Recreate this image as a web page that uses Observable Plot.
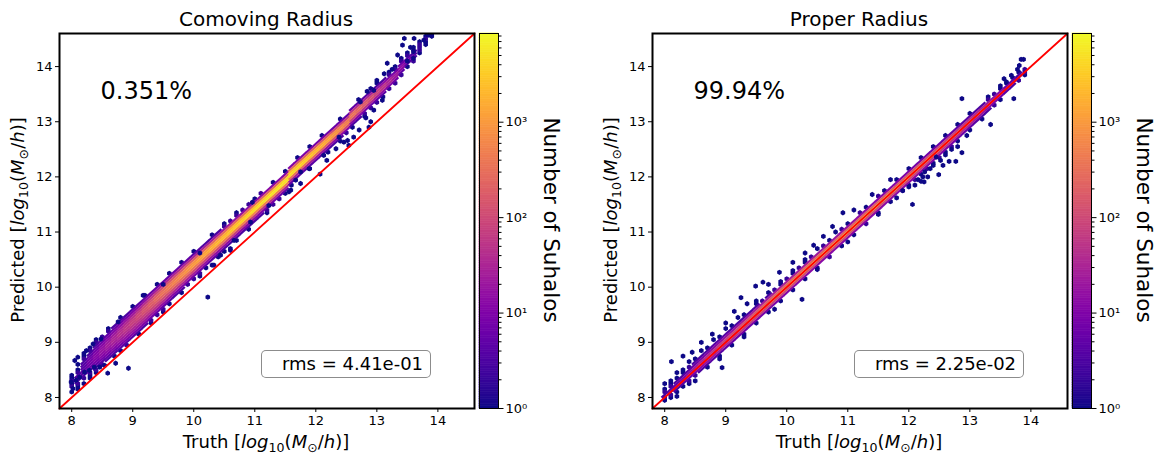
<!DOCTYPE html>
<html><head><meta charset="utf-8">
<script src="https://cdn.jsdelivr.net/npm/d3@7"></script>
<script src="https://cdn.jsdelivr.net/npm/@observablehq/plot@0.6"></script>
<style>
html,body{margin:0;padding:0;background:#fff;}
#fig{position:relative;width:1164px;height:458px;overflow:hidden;font-family:"DejaVu Sans",sans-serif;color:#000;}
.abs{position:absolute;white-space:nowrap;line-height:1;}
.title{font-size:20px;transform:translateX(-50%);}
.xlab{font-size:18px;transform:translateX(-50%);}
.ylab{font-size:18px;transform:translate(-50%,-50%) rotate(-90deg);}
.cblab{font-size:21.5px;transform:translate(-50%,-50%) rotate(90deg);}
.pct{font-size:24px;}
.box{box-sizing:border-box;border:1px solid rgba(0,0,0,0.45);border-radius:5px;background:#fff;font-size:18px;line-height:26px;padding-left:20px;}
sub{font-size:70%;vertical-align:-0.28em;line-height:0;}
</style></head>
<body><div id="fig"></div>
<script>
// ---------- data ----------
const axisLimits = [7.8, 14.6];
const majorTicks = [8, 9, 10, 11, 12, 13, 14];
const cbarTicks = [1, 10, 100, 1000];
const cbarMinorTicks = [2,3,4,5,6,7,8,9,20,30,40,50,60,70,80,90,200,300,400,500,600,700,800,900,2000,3000,4000,5000,6000,7000,8000];
const cbarMax = 8500;
const panelTitles = ["Comoving Radius", "Proper Radius"];
const fractionLabels = ["0.351%", "99.94%"];
const rmsLabels = ["rms = 4.41e-01", "rms = 2.25e-02"];

// hexbin columns along the truth axis (column centres)
const truthColumns = [8.0,8.1,8.2,8.3,8.4,8.5,8.6,8.7,8.8,8.9,9.0,9.1,9.2,9.3,9.4,9.5,9.6,9.7,9.8,9.9,
  10.0,10.1,10.2,10.3,10.4,10.5,10.6,10.7,10.8,10.9,11.0,11.1,11.2,11.3,11.4,11.5,11.6,11.7,11.8,11.9,
  12.0,12.1,12.2,12.3,12.4,12.5,12.6,12.7,12.8,12.9,13.0,13.1,13.2,13.3,13.4,13.5,13.6,13.7,13.8,13.9];

// Comoving: lowest (predicted - truth) row of each column, then counts per row going up
const comovingRowStart = [0.10,
  0.05,0.05,0.05,0.05,0.05,0.05,0.05,0.05,0.05,0.05,0.05,0.05,0.05,0.05,0.05,
  0.10,0.10,0.10,0.10,0.10,0.10,0.10,0.10,0.10,0.10,0.10,0.10,0.10,
  0.15,0.15,0.15,0.15,0.15,0.20,0.20,
  0.25,0.25,0.25,0.25,0.25,0.25,0.25,0.25,0.25,0.25,
  0.30,0.30,0.30,0.30,0.35,0.35,0.40,0.40,0.45,0.50,0.50,0.55,0.60,0.65];
const comovingCounts = [
  "1 0 2 1 2 1 1",
  "1 1 2 3 2 3 2 1 0 1",
  "1 0 2 3 4 5 4 4 3 2 1 1",
  "1 1 2 4 6 7 8 7 5 3 2 1 0",
  "1 2 3 5 8 10 12 11 8 5 3 2 1",
  "0 2 4 7 11 15 18 16 12 7 4 2 0",
  "0 3 5 9 14 20 25 22 16 9 5 2 1",
  "1 3 6 11 18 26 33 30 21 12 6 3 0",
  "1 4 8 14 22 33 44 40 28 15 7 3 1",
  "2 4 9 16 27 42 56 52 36 19 8 3 0",
  "0 4 10 19 33 52 72 70 48 24 10 4 1",
  "1 3 10 21 38 62 92 100 68 32 12 4 0",
  "0 3 9 21 42 74 120 140 100 44 15 5 1",
  "1 2 7 19 44 85 150 190 140 60 19 5 0",
  "0 2 6 17 44 95 185 260 200 85 24 6 1",
  "1 2 5 14 42 105 230 360 280 110 28 6 0",
  "1 4 12 38 110 270 460 360 130 30 6 1",
  "0 3 10 34 110 300 570 450 150 32 6 0",
  "1 3 9 30 110 330 700 560 170 32 5 1",
  "0 2 8 27 110 360 850 680 190 32 5 0",
  "0 2 7 24 105 390 1000 800 210 30 4 1",
  "1 2 6 21 100 420 1200 950 230 30 4 0",
  "0 1 5 18 95 450 1400 1100 240 28 3 0",
  "1 0 4 16 90 480 1650 1250 250 26 3 1",
  "0 1 4 15 85 500 1900 1400 250 24 3 0",
  "0 1 3 14 80 520 2200 1600 250 22 2 1",
  "1 0 3 13 75 540 2600 1800 250 20 2 0",
  "0 1 3 12 70 560 3000 2000 250 18 2 1",
  "0 0 3 11 65 580 3500 2200 240 16 2 0",
  "1 3 10 60 600 4000 2400 230 15 2",
  "0 3 10 55 600 4500 2600 220 14 1",
  "0 3 9 50 580 4800 2800 220 13 2",
  "1 2 8 45 560 5200 3000 220 12 0",
  "0 2 8 40 520 5500 3200 220 11 1",
  "2 6 34 470 5400 3600 240 11 0",
  "1 5 30 420 4800 4200 240 10 1",
  "1 5 28 360 4400 2700 220 10 0",
  "0 5 26 330 4000 2500 210 10 1",
  "0 4 24 300 3400 2200 200 9 0",
  "1 4 22 270 2800 1900 180 9 1",
  "0 4 20 240 2200 1600 160 8 0",
  "0 3 18 210 1700 1300 140 8 1",
  "1 3 16 180 1300 1000 120 7 0",
  "0 3 14 150 950 750 100 6 0",
  "1 3 12 120 700 560 80 6 1",
  "0 2 10 95 500 420 65 5 0",
  "1 3 12 80 360 300 50 5 0",
  "0 3 10 60 260 220 40 4 1",
  "1 2 8 45 180 160 32 4 0",
  "0 2 6 32 120 110 25 3 1",
  "2 5 22 80 75 18 3 1",
  "1 4 15 50 50 14 3 0",
  "2 10 32 32 10 2 1",
  "2 7 20 22 8 2 1",
  "2 5 13 15 6 2 1",
  "1 4 8 4 2 1",
  "2 3 4 3 1 1",
  "1 2 2 2 1",
  "1 1 2 1",
  "1 1"];

// Proper: same layout (row index 3 = on the diagonal for most columns)
const properRowStart = [-0.05,-0.10,-0.10,
  -0.15,-0.15,-0.15,-0.15,-0.15,-0.15,-0.15,-0.15,-0.15,-0.15,-0.15,-0.15,-0.15,-0.15,-0.15,-0.15,-0.15,
  -0.15,-0.15,-0.15,-0.15,-0.15,-0.15,-0.15,-0.15,-0.15,-0.15,-0.15,-0.15,-0.15,-0.15,-0.15,-0.15,-0.15,
  -0.15,-0.15,-0.15,-0.15,-0.15,-0.15,-0.15,-0.15,-0.15,-0.15,-0.15,-0.15,-0.15,-0.15,-0.15,-0.15,-0.15,
  -0.15,-0.15,-0.15,-0.15,-0.15,-0.15];
const properCounts = [
  "1 2 3 2 1 0 1",
  "1 2 5 4 2 1 1",
  "1 3 8 6 3 1 0 1",
  "0 1 4 14 10 3 1 1",
  "1 2 6 22 15 4 2 0 1",
  "0 2 9 32 22 6 3 1",
  "0 3 12 45 30 8 3 0 1",
  "1 3 16 60 40 10 3 1",
  "0 4 20 80 52 12 4 0 1",
  "1 4 25 105 65 14 4 1",
  "0 5 32 135 80 16 4 0 1",
  "1 6 38 170 95 18 3 1",
  "0 6 45 215 110 20 3 0 1",
  "1 7 52 270 125 22 3 1",
  "0 7 60 340 140 24 3 0",
  "1 8 68 420 160 25 3 1 1",
  "0 8 75 520 175 26 2 0",
  "1 9 82 640 190 26 3 1",
  "0 9 88 780 205 26 2 0",
  "1 10 94 950 215 26 1 1",
  "0 10 100 1150 225 26 2 0",
  "1 11 105 1400 230 25 1 1",
  "0 11 110 1650 235 25 2",
  "1 12 112 1900 240 24 1 1",
  "0 12 114 2200 240 23 2",
  "1 12 116 2500 240 22 0 1",
  "0 12 116 2800 235 21 2",
  "2 12 116 3100 230 20 1",
  "0 12 114 3400 225 19 0 1",
  "1 12 112 3700 220 18 2",
  "0 12 110 4000 215 17 1",
  "1 12 108 4200 210 16 0",
  "0 12 106 4400 205 15 2",
  "2 12 104 4500 200 14 1",
  "0 12 102 4500 195 13 0",
  "1 12 100 4400 190 12 2",
  "0 12 98 4200 180 11 1",
  "1 12 95 3900 170 10 0",
  "0 12 92 3500 160 10 1",
  "2 12 88 3100 150 9 0",
  "1 12 84 2700 140 9 1",
  "2 12 80 2300 130 8 0",
  "1 11 76 1900 120 8 1",
  "2 11 70 1550 110 7 0",
  "1 10 64 1250 100 7 1",
  "2 10 58 1000 90 6 0",
  "1 9 52 780 80 6 1",
  "2 8 46 600 70 5 0",
  "1 7 40 450 60 5 1",
  "0 6 34 330 50 4 0",
  "1 5 28 240 42 4 1",
  "0 4 22 170 34 3 0",
  "1 3 17 120 27 3",
  "0 3 13 82 21 2 1",
  "0 2 10 55 16 2",
  "0 1 7 36 12 1 1",
  "0 0 4 22 8 1",
  "0 0 3 12 5 1",
  "0 0 2 6 3 1",
  "0 0 1 2 2"];

// isolated single-halo cells
const comovingOutlierTruth = [8.02,7.99,8.07,8.13,8.21,8.29,8.37,8.46,8.54,8.59,8.93,8.72,10.23,12.07,12.87,10.33,
  8.05,8.10,8.24,8.35,8.48,8.76,9.17,9.50,10.10,10.96,
  10.44,10.60,10.66,10.93,11.23,11.56,11.67,11.75,11.89,12.13,11.59,11.75,12.18,12.33,12.38,12.46,12.52,12.54,12.62,12.71,12.82,12.90,12.95,13.09,
  12.73,12.84,12.95,13.00,13.12,13.17,13.34,13.42,13.45,13.60,13.61,13.60,13.77,13.85,13.25,13.50,13.55];
const comovingOutlierPred = [8.16,8.28,8.31,8.37,8.46,8.49,8.55,8.55,8.58,8.44,8.53,8.62,9.82,12.05,12.90,10.40,
  8.67,8.73,8.85,8.97,9.06,9.37,9.85,10.05,10.62,11.54,
  10.58,10.67,10.85,11.18,11.48,11.73,11.94,12.09,12.15,12.39,11.76,11.88,12.30,12.51,12.72,12.63,12.66,12.57,12.72,12.85,13.07,13.00,13.21,13.39,
  13.36,13.55,13.57,13.75,13.87,14.06,14.21,14.39,14.51,14.27,14.51,14.15,14.48,14.57,13.95,14.10,14.35];
const properOutlierTruth = [8.94,10.25,12.06,12.87,13.72,13.34,
  13.84,13.88,13.81,13.68,13.78,13.56,13.60,
  12.87,12.77,12.66,12.56,12.49,12.40,12.31,12.26,12.45,12.23,12.25,12.60,12.70,12.35,12.15,12.10,12.20,12.52,12.80,12.95,12.00,11.90,11.80,
  8.11,8.45,8.78,9.14,9.25,9.49,9.61,9.88,10.44,10.92,8.30,8.60,9.00,9.35,9.70,10.10,10.30,10.60,10.75,11.10,11.40,11.70,
  8.20,8.50,8.90,9.30,9.80,10.50,11.00,11.50];
const properOutlierPred = [8.54,9.78,11.50,13.42,13.42,12.95,
  14.13,14.13,14.02,13.84,13.95,13.78,13.72,
  12.44,12.28,12.28,12.21,12.04,12.21,12.00,12.09,12.36,12.00,11.91,12.40,12.50,12.15,11.95,11.85,11.92,12.30,12.55,12.75,11.82,11.75,11.62,
  8.65,8.82,9.15,9.56,9.81,10.02,10.09,10.27,10.76,11.35,8.75,9.00,9.35,9.70,10.05,10.45,10.62,10.92,11.10,11.40,11.68,11.95,
  8.02,8.30,8.70,9.10,9.60,10.32,10.82,11.32];

// ---------- drawing ----------
const COL = 0.1, ROW = 0.05;
const fig = document.getElementById("fig");
const colorOpts = {type: "log", scheme: "plasma", domain: [1, cbarMax]};
const sup = ["\u2070", "\u00b9", "\u00b2", "\u00b3", "\u2074"];
const baseStyle = {fontFamily: "DejaVu Sans", fontSize: "13px", color: "#000", background: "none", overflow: "visible"};
const massLabel = '[<i>log</i><sub>10</sub>(<i>M</i><sub>\u2299</sub>/<i>h</i>)]';

function addDiv(cls, left, top, html, extra) {
  const d = document.createElement("div");
  d.className = "abs " + cls;
  d.style.left = left + "px"; d.style.top = top + "px";
  d.innerHTML = html;
  if (extra) Object.assign(d.style, extra);
  fig.appendChild(d);
  return d;
}
function place(node, left, top) {
  const w = document.createElement("div");
  w.style.position = "absolute"; w.style.left = left + "px"; w.style.top = top + "px";
  w.appendChild(node); fig.appendChild(w);
}

function panel(p, ox, rowStart, counts, outT, outP) {
  const cells = [];
  truthColumns.forEach((t, i) => {
    counts[i].split(" ").map(Number).forEach((c, j) => {
      if (c > 0) cells.push({t, o: rowStart[i] + j * ROW, c});
    });
  });
  cells.sort((a, b) => a.c - b.c);
  const dense = cells.filter(d => d.c >= 3);
  const sparse = cells.filter(d => d.c < 3);
  const half = COL / 2 * 1.06;
  const outIdx = d3.range(outT.length);

  const main = Plot.plot({
    width: 477, height: 458, marginLeft: 59, marginRight: 3, marginTop: 33, marginBottom: 50,
    x: {domain: axisLimits}, y: {domain: axisLimits},
    color: colorOpts,
    style: baseStyle,
    marks: [
      Plot.dot(sparse, {x: d => d.t, y: d => d.t + d.o, fill: d => d.c, r: 2.3, symbol: "hexagon", clip: true}),
      Plot.link(dense, {x1: d => d.t - half, y1: d => d.t - half + d.o, x2: d => d.t + half, y2: d => d.t + half + d.o,
        stroke: d => d.c, strokeWidth: 2.25, strokeLinecap: "butt", clip: true}),
      Plot.dot(outIdx, {x: i => outT[i], y: i => outP[i], fill: () => 1, r: 2.3, symbol: "hexagon", clip: true}),
      Plot.line(axisLimits, {x: d => d, y: d => d, stroke: "red", strokeWidth: 1.8}),
      Plot.frame({stroke: "black", strokeWidth: 2}),
      Plot.axisX(majorTicks, {tickSize: 4, tickPadding: 3, label: null, tickFormat: d => String(d)}),
      Plot.axisY(majorTicks, {tickSize: 4, tickPadding: 3, label: null, tickFormat: d => String(d)})
    ]
  });
  place(main, ox, 0);

  const N = 160;
  const stops = d3.range(N).map(k => [Math.pow(cbarMax, k / N), Math.pow(cbarMax, (k + 1) / N)]);
  const cbar = Plot.plot({
    width: 69, height: 458, marginLeft: 0, marginRight: 50, marginTop: 33, marginBottom: 50,
    x: {domain: [0, 1], axis: null}, y: {type: "log", domain: [1, cbarMax], axis: null},
    color: colorOpts,
    style: baseStyle,
    marks: [
      Plot.rect(stops, {x1: () => 0, x2: () => 1, y1: d => d[0], y2: d => d[1],
        fill: d => Math.sqrt(d[0] * d[1]), stroke: d => Math.sqrt(d[0] * d[1]), strokeWidth: 0.6}),
      Plot.frame({stroke: "black", strokeWidth: 1}),
      Plot.axisY(cbarMinorTicks, {anchor: "right", tickSize: 2.5, tickFormat: () => "", label: null}),
      Plot.axisY(cbarTicks, {anchor: "right", tickSize: 4.5, tickPadding: 2.5, label: null,
        tickFormat: d => "10" + sup[Math.round(Math.log10(d))]})
    ]
  });
  place(cbar, ox + 479, 0);

  addDiv("title", ox + 266, 9, panelTitles[p]);
  addDiv("pct", ox + 100.5, 78.7, fractionLabels[p]);
  addDiv("box", ox + 261, 350, rmsLabels[p], {width: "170px", height: "28px"});
  addDiv("ylab", ox + 17.5, 220, "Predicted " + massLabel);
  addDiv("xlab", ox + 266, 432.8, "Truth " + massLabel);
  addDiv("cblab", ox + 551, 220, "Number of Suhalos");
}

panel(0, 0, comovingRowStart, comovingCounts, comovingOutlierTruth, comovingOutlierPred);
panel(1, 593, properRowStart, properCounts, properOutlierTruth, properOutlierPred);
</script>
</body></html>
